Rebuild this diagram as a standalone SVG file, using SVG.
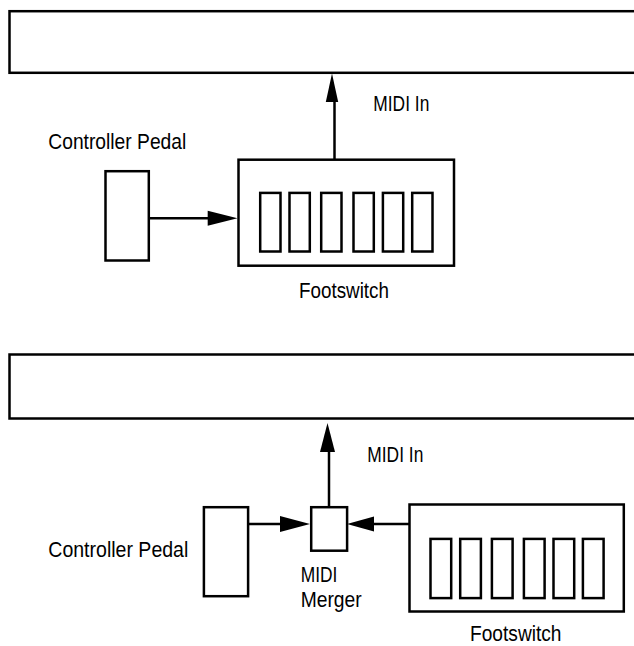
<svg xmlns="http://www.w3.org/2000/svg" width="634" height="646" viewBox="0 0 634 646">
<style>
.box{fill:#fff;stroke:#000;stroke-width:2.5}
.ln{stroke:#000;stroke-width:2.5;fill:none}
.ah{fill:#000;stroke:none}
.t{font-family:"Liberation Sans",Arial,sans-serif;font-size:22.5px;fill:#000}
</style>
<rect width="634" height="646" fill="#fff"/>
<g id="top-section">
<g id="top-instrument"><rect class="box" x="9.5" y="11.2" width="700" height="61.6"/></g>
<g id="top-pedal"><rect class="box" x="105.5" y="171.2" width="43.3" height="89.3"/>
<text class="t" x="48.3" y="149.3" textLength="138" lengthAdjust="spacingAndGlyphs">Controller Pedal</text></g>
<g id="top-footswitch">
<rect class="box" x="238.5" y="159.7" width="215.5" height="106"/>
<rect class="box" x="260.2" y="192.9" width="20.3" height="58.6"/>
<rect class="box" x="289.5" y="192.9" width="20.3" height="58.6"/>
<rect class="box" x="321.2" y="192.9" width="20.3" height="58.6"/>
<rect class="box" x="353.5" y="192.9" width="20.3" height="58.6"/>
<rect class="box" x="382.9" y="192.9" width="20.3" height="58.6"/>
<rect class="box" x="412.2" y="192.9" width="20.3" height="58.6"/>
<text class="t" x="299" y="298.3" textLength="90" lengthAdjust="spacingAndGlyphs">Footswitch</text></g>
<text class="t" x="373.3" y="111" textLength="56" lengthAdjust="spacingAndGlyphs">MIDI In</text>
</g>
<g id="bottom-section">
<g id="bottom-instrument"><rect class="box" x="9.5" y="354.5" width="700" height="64"/></g>
<g id="bottom-pedal"><rect class="box" x="203.9" y="507.2" width="44.2" height="89"/>
<text class="t" x="48.3" y="557.3" textLength="140" lengthAdjust="spacingAndGlyphs">Controller Pedal</text></g>
<g id="midi-merger"><rect class="box" x="311.2" y="507.2" width="35.9" height="43.5"/>
<text class="t" x="300.7" y="581.7" textLength="36.7" lengthAdjust="spacingAndGlyphs">MIDI</text>
<text class="t" x="300.7" y="607" textLength="61" lengthAdjust="spacingAndGlyphs">Merger</text></g>
<g id="bottom-footswitch">
<rect class="box" x="409.5" y="504.5" width="214.3" height="107"/>
<rect class="box" x="430.5" y="538.9" width="20.7" height="59.2"/>
<rect class="box" x="460.2" y="538.9" width="20.7" height="59.2"/>
<rect class="box" x="491.9" y="538.9" width="20.7" height="59.2"/>
<rect class="box" x="523.9" y="538.9" width="20.7" height="59.2"/>
<rect class="box" x="553.5" y="538.9" width="20.7" height="59.2"/>
<rect class="box" x="582.9" y="538.9" width="20.7" height="59.2"/>
<text class="t" x="470" y="641" textLength="91.5" lengthAdjust="spacingAndGlyphs">Footswitch</text></g>
<text class="t" x="367.3" y="461.7" textLength="56" lengthAdjust="spacingAndGlyphs">MIDI In</text>
</g>
<g id="connectors">
<line class="ln" x1="334.5" y1="159" x2="334.5" y2="100"/>
<polygon class="ah" points="332,73.5 325.8,102 338.2,102"/>
<line class="ln" x1="150" y1="218.3" x2="210" y2="218.3"/>
<polygon class="ah" points="237.5,218.3 207.7,210.8 207.7,225.8"/>
<line class="ln" x1="329" y1="506" x2="329" y2="450"/>
<polygon class="ah" points="327.5,423 320,452 335,452"/>
<line class="ln" x1="249" y1="524" x2="282" y2="524"/>
<polygon class="ah" points="310,524 280,516 280,532"/>
<line class="ln" x1="410" y1="524" x2="372" y2="524"/>
<polygon class="ah" points="347,524 374,516.5 374,531.5"/>
</g>
</svg>
